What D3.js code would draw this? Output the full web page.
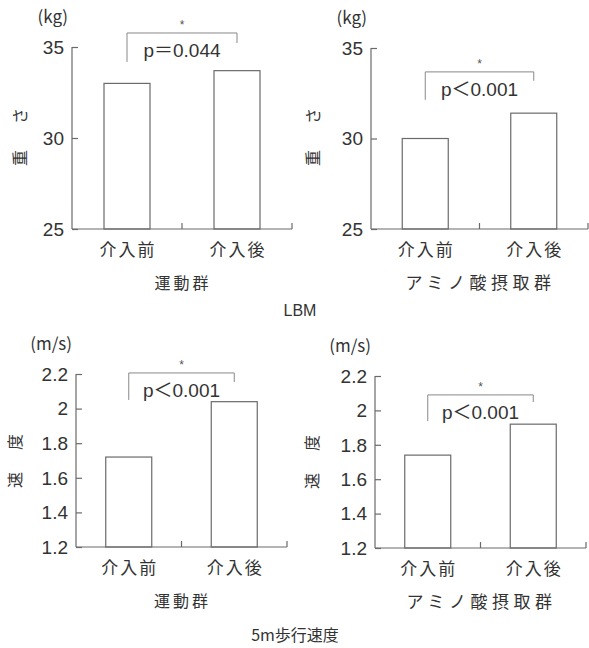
<!DOCTYPE html>
<html>
<head>
<meta charset="utf-8">
<script src="https://cdn.jsdelivr.net/npm/d3@7"></script>
<style>
  html, body { margin: 0; padding: 0; background: #ffffff; }
  svg { display: block; }
  .ytitle { opacity: 0.99; }
</style>
</head>
<body>
<svg id="chart" width="589" height="648"></svg>
<script>
// ---- data ----
const categories = ["介入前", "介入後"];
const lbmExercise = [33.0, 33.7];
const lbmAmino = [30.0, 31.4];
const speedExercise = [1.72, 2.04];
const speedAmino = [1.74, 1.92];
const lbmTicks = [25, 30, 35];
const speedTicks = [1.2, 1.4, 1.6, 1.8, 2, 2.2];
const groupLabels = ["運動群", "アミノ酸摂取群"];
const pLabels = ["p＝0.044", "p＜0.001", "p＜0.001", "p＜0.001"];
const sectionTitles = ["LBM", "5m歩行速度"];
const unitLabels = ["(kg)", "(m/s)"];
const axisTitles = [["重", "さ"], ["速", "度"]];
// bracket levels in data units: [top, left leg end, right leg end]
const brackets = [[35.77, 34.18, 35.22], [33.68, 32.14, 33.19], [2.206, 2.05, 2.154], [2.09, 1.938, 2.049]];

const svg = d3.select("#chart");
const ink = "#333";
const lineCol = "#6a6a6a";
const numFont = "'Liberation Sans', 'Noto Sans CJK JP', sans-serif";
const jpFont = "'Noto Sans CJK JP', sans-serif";

const panels = [
  { values: lbmExercise, ticks: lbmTicks, domain: [25, 35], x0: 72, x1: 292, yTop: 47, yBot: 229,
    unit: unitLabels[0], title: axisTitles[0], titleX: 20, titleY: 137, titleGap: 42, group: groupLabels[0], p: pLabels[0], br: brackets[0], fmt: d3.format("d") },
  { values: lbmAmino, ticks: lbmTicks, domain: [25, 35], x0: 371, x1: 588, yTop: 48, yBot: 229,
    unit: unitLabels[0], title: axisTitles[0], titleX: 313, titleY: 137, titleGap: 42, group: groupLabels[1], p: pLabels[1], br: brackets[1], fmt: d3.format("d") },
  { values: speedExercise, ticks: speedTicks, domain: [1.2, 2.2], x0: 76, x1: 287, yTop: 374, yBot: 547,
    unit: unitLabels[1], title: axisTitles[1], titleX: 15, titleY: 461, titleGap: 38, group: groupLabels[0], p: pLabels[2], br: brackets[2], fmt: d => d3.format(".1~f")(d) },
  { values: speedAmino, ticks: speedTicks, domain: [1.2, 2.2], x0: 375, x1: 586, yTop: 376, yBot: 548,
    unit: unitLabels[1], title: axisTitles[1], titleX: 312, titleY: 462, titleGap: 38, group: groupLabels[1], p: pLabels[3], br: brackets[3], fmt: d => d3.format(".1~f")(d) }
];

panels.forEach(cfg => {
  const g = svg.append("g");
  const y = d3.scaleLinear().domain(cfg.domain).range([cfg.yBot, cfg.yTop]);
  const x = d3.scalePoint().domain(categories).range([cfg.x0, cfg.x1]).padding(0.5);
  const bw = 46;

  // bars
  g.selectAll("rect.bar").data(cfg.values).join("rect")
    .attr("x", (d, i) => x(categories[i]) - bw / 2)
    .attr("y", d => y(d))
    .attr("width", bw)
    .attr("height", d => y(cfg.domain[0]) - y(d))
    .attr("fill", "#fff")
    .attr("stroke", lineCol)
    .attr("stroke-width", 1.2);

  // y axis
  const yAxis = d3.axisRight(y).tickValues(cfg.ticks).tickSize(6).tickFormat("");
  const ya = g.append("g").attr("transform", `translate(${cfg.x0},0)`).call(yAxis);
  ya.select(".domain").attr("stroke", lineCol).attr("stroke-width", 1.2).attr("d", `M0,${cfg.yTop}V${cfg.yBot}`);
  ya.selectAll(".tick line").attr("stroke", lineCol).attr("stroke-width", 1.2);

  // tick labels
  g.selectAll("text.tl").data(cfg.ticks).join("text")
    .attr("x", cfg.x0 - 8)
    .attr("y", d => y(d))
    .attr("dy", "0.36em")
    .attr("text-anchor", "end")
    .attr("font-family", numFont)
    .attr("font-size", 19)
    .attr("fill", ink)
    .text(cfg.fmt);

  // x axis
  g.append("line")
    .attr("x1", cfg.x0).attr("x2", cfg.x1)
    .attr("y1", cfg.yBot).attr("y2", cfg.yBot)
    .attr("stroke", lineCol).attr("stroke-width", 1.2);
  const mid = (x(categories[0]) + x(categories[1])) / 2;
  [mid, cfg.x1].forEach(xx => {
    g.append("line").attr("x1", xx).attr("x2", xx)
      .attr("y1", cfg.yBot).attr("y2", cfg.yBot - 6)
      .attr("stroke", lineCol).attr("stroke-width", 1.2);
  });

  // category labels
  g.selectAll("text.cat").data(categories).join("text")
    .attr("x", d => x(d) + 1)
    .attr("y", cfg.yBot + 27)
    .attr("text-anchor", "middle")
    .attr("font-family", jpFont)
    .attr("font-size", 17)
    .attr("letter-spacing", 2)
    .attr("fill", ink)
    .text(d => d);

  // group label
  const isLong = cfg.group.length > 4;
  g.append("text")
    .attr("x", mid + 1)
    .attr("y", cfg.yBot + 60)
    .attr("text-anchor", "middle")
    .attr("font-family", jpFont)
    .attr("font-size", isLong ? 17 : 16)
    .attr("letter-spacing", isLong ? 4.5 : 3)
    .attr("fill", ink)
    .text(cfg.group);

  // unit
  g.append("text")
    .attr("x", cfg.x0 - 4)
    .attr("y", cfg.yTop - 24)
    .attr("text-anchor", "end")
    .attr("font-family", jpFont)
    .attr("font-size", 17)
    .attr("fill", ink)
    .text(cfg.unit);

  // rotated axis title (reads bottom to top)
  cfg.title.forEach((ch, i) => {
    const cy = cfg.titleY + cfg.titleGap / 2 - i * cfg.titleGap;
    g.append("text")
      .attr("class", "ytitle")
      .attr("transform", `translate(${cfg.titleX},${cy}) rotate(-90)`)
      .attr("text-anchor", "middle")
      .attr("dy", "0.36em")
      .attr("font-family", jpFont)
      .attr("font-size", 16)
      .attr("fill", ink)
      .text(ch);
  });

  // significance bracket
  const bx1 = x(categories[0]), bx2 = x(categories[1]);
  const [bt, bl, brr] = cfg.br;
  g.append("path")
    .attr("d", `M${bx1},${y(bl)}V${y(bt)}H${bx2}V${y(brr)}`)
    .attr("fill", "none")
    .attr("stroke", "#888")
    .attr("stroke-width", 1);
  g.append("text")
    .attr("x", mid)
    .attr("y", y(bt) - 4)
    .attr("text-anchor", "middle")
    .attr("font-family", numFont)
    .attr("font-size", 12)
    .attr("fill", "#555")
    .text("*");
  g.append("text")
    .attr("x", mid)
    .attr("y", y(bt) + 24)
    .attr("text-anchor", "middle")
    .attr("font-family", numFont)
    .attr("font-size", 19)
    .attr("fill", ink)
    .text(cfg.p);
});

// section titles
svg.append("text")
  .attr("x", 300).attr("y", 316)
  .attr("text-anchor", "middle")
  .attr("font-family", numFont)
  .attr("font-size", 16)
  .attr("fill", ink)
  .text(sectionTitles[0]);
svg.append("text")
  .attr("x", 295).attr("y", 641)
  .attr("text-anchor", "middle")
  .attr("font-family", jpFont)
  .attr("font-size", 16)
  .attr("fill", ink)
  .text(sectionTitles[1]);
</script>
</body>
</html>
